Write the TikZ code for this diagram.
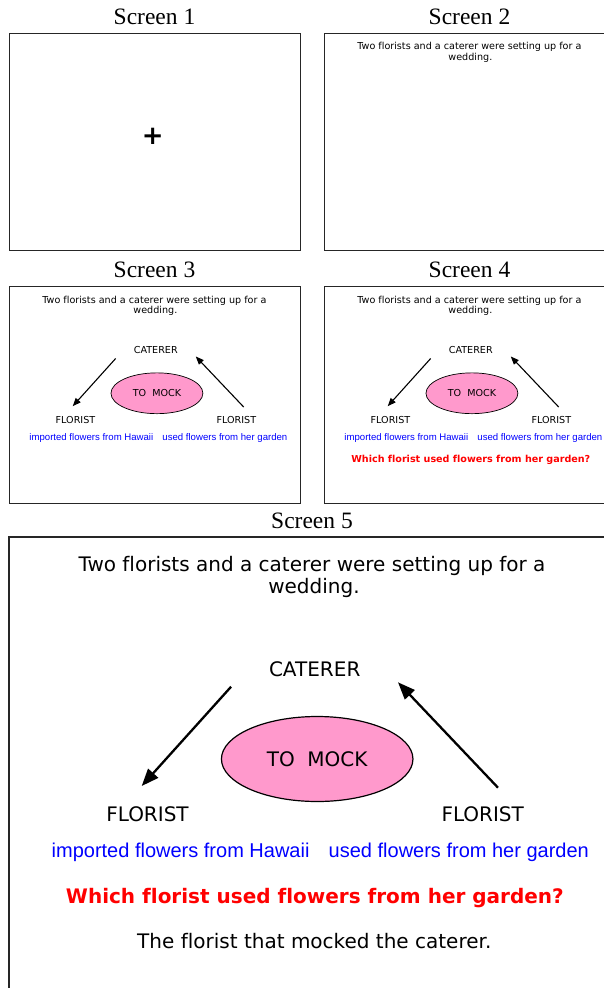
\documentclass[tikz,border=0pt]{standalone}
\usepackage{fontspec}
\usepackage{tikz}
\usetikzlibrary{arrows.meta,shapes.geometric}
\setmainfont{Liberation Serif}
\newfontfamily\dejavu[Ligatures=NoCommon]{DejaVu Sans}
\newfontfamily\arialish[Ligatures=NoCommon]{Liberation Sans}
\definecolor{mockpink}{HTML}{FF99CC}

\tikzset{
 title/.style={anchor=base,font=\fontsize{23.5}{28}\selectfont},
 screen/.style={draw=black!85,line width=1pt},
 txt/.style={anchor=base,inner sep=0pt,font=\dejavu\fontsize{20}{24}\selectfont},
 hint/.style={anchor=base,inner sep=0pt,text=blue,font=\arialish\fontsize{20}{24}\selectfont},
 ask/.style={anchor=base,inner sep=0pt,text=red,font=\dejavu\bfseries\fontsize{20}{24}\selectfont},
 blob/.style={ellipse,draw,fill=mockpink,minimum width=191.5pt,minimum height=85pt,inner sep=0pt,
  font=\dejavu\fontsize{20}{24}\selectfont},
 arr/.style={-{Triangle[length=0pt 7.5,width=0pt 5.8]}}
}

% one slide, drawn in screen-5 units; #1 = how far the slide has got
\newcommand{\slidebody}[1]{%
 \node[txt] (intro) at (303,34.7) {Two florists and a caterer were setting up for a};
 \node[txt] (intro2) at (305,56.3) {wedding.};
 \ifnum#1>2
 \node[txt] (cat) at (305.7,139.7) {CATERER};
 \node[blob] (mock) at (308.2,222) {TO\ \ MOCK};
 \node[txt] (florL) at (138.5,284.7) {FLORIST};
 \node[txt] (florR) at (473.7,284.7) {FLORIST};
 \coordinate (catL) at (222.1,149.7);
 \coordinate (florLtop) at (132.7,249);
 \coordinate (florRtop) at (489,250.7);
 \coordinate (catR) at (389,145.3);
 \draw[arr] (catL) -- (florLtop);
 \draw[arr] (florRtop) -- (catR);
 \node[hint] (hawaii) at (171.6,320.3) {imported flowers from Hawaii};
 \node[hint] (garden) at (449.8,320.3) {used flowers from her garden};
 \fi
 \ifnum#1>3
 \node[ask] (question) at (305.9,366.3) {Which florist used flowers from her garden?};
 \fi
 \ifnum#1>4
 \node[txt] (answer) at (305.3,411.3) {The florist that mocked the caterer.};
 \fi
}

\begin{document}
\begin{tikzpicture}[x=1pt,y=-1pt,>=Latex]
\clip (0,0) rectangle (604,988);
\fill[white] (0,0) rectangle (604,988);
% titles
\foreach \n/\x/\y in {1/154.5/24,2/469.5/24,3/154.5/277.7,4/469.5/277.7,5/312/528}{
 \node[title] (title\n) at (\x,\y) {Screen \n};
}
% screen frames
\draw[screen] (9,33) rectangle (300,250.5);
\draw[screen] (324,33) rectangle (615,250.5);
\draw[screen] (9,286.7) rectangle (300,503.3);
\draw[screen] (324,286.7) rectangle (615,503.3);
\draw[screen,line width=1.3pt] (9,537) rectangle (615,1000);
% screen 1: fixation cross
\node[font=\dejavu\bfseries\fontsize{26}{30}\selectfont,inner sep=0pt] (fix) at (152.7,136) {+};
\begin{scope}[shift={(324,33)},scale=.48,transform shape,name prefix=s2-]
\slidebody{2}
\end{scope}
\begin{scope}[shift={(9,286.7)},scale=.48,transform shape,name prefix=s3-,
 arr/.append style={line width=1.1pt},blob/.append style={line width=.7pt}]
\slidebody{3}
\end{scope}
\begin{scope}[shift={(324,286.7)},scale=.48,transform shape,name prefix=s4-,
 arr/.append style={line width=1.1pt},blob/.append style={line width=.7pt}]
\slidebody{4}
\end{scope}
\begin{scope}[shift={(9,537)},name prefix=s5-,
 arr/.append style={line width=2.3pt},blob/.append style={line width=1.2pt}]
\slidebody{5}
\end{scope}
\end{tikzpicture}
\end{document}
